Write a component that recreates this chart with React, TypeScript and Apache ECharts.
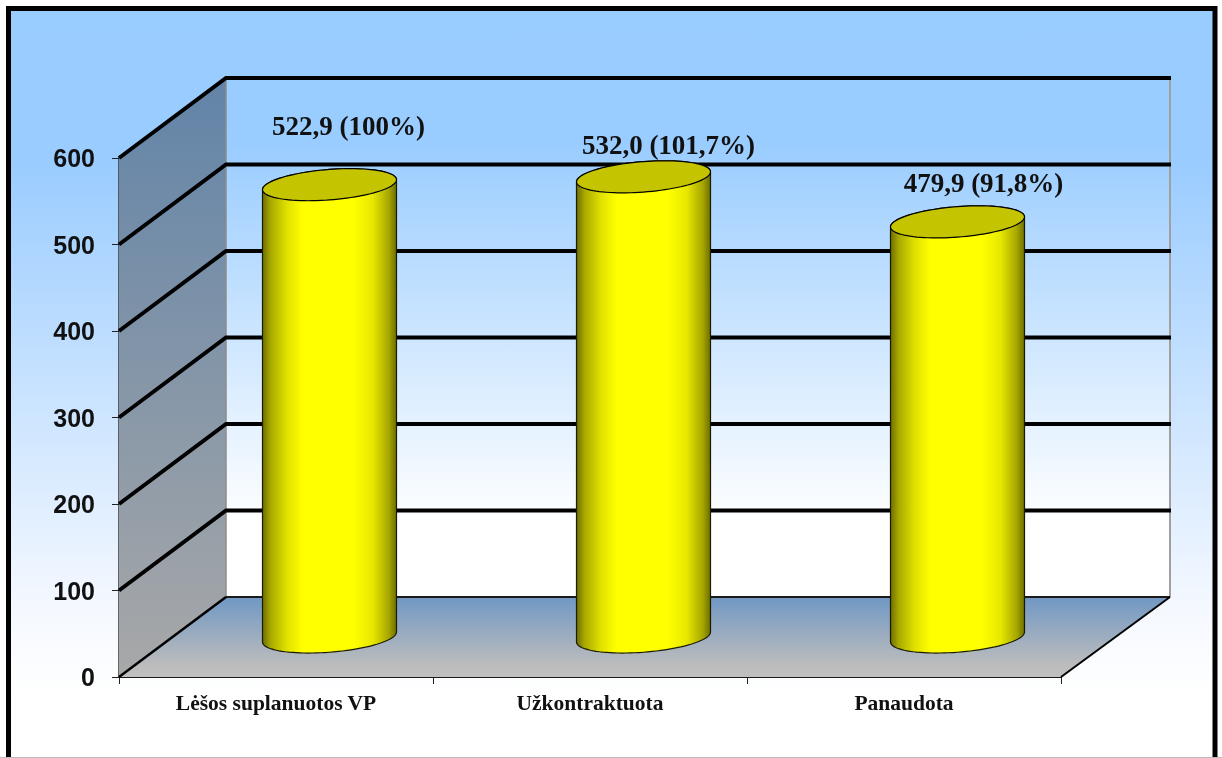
import React, { useEffect, useRef } from "react";
import * as echarts from "echarts";

const categories = ["Lėšos suplanuotos VP", "Užkontraktuota", "Panaudota"];
const values = [522.9, 532.0, 479.9];
const percents = ["100%", "101,7%", "91,8%"];
const yTicks = [100, 200, 300, 400, 500, 600];

const DX = 107;
const DY = -80;
const BACK_EXTRA = 2;
const RX = 67.2;
const RY = 15.2;
const TILT = (4.5 * Math.PI) / 180;
const labelShift = [[19, -59], [25, -32], [26, -39]];

const T0 = Math.atan2(RY * Math.sin(TILT), RX * Math.cos(TILT));
const ARC_STEPS = 48;

function ellipseArc(cx: number, cy: number, from: number, to: number): string[] {
  const out: string[] = [];
  for (let k = 0; k <= ARC_STEPS; k++) {
    const t = from + ((to - from) * k) / ARC_STEPS;
    const x = cx + RX * Math.cos(t) * Math.cos(TILT) + RY * Math.sin(t) * Math.sin(TILT);
    const y = cy - RX * Math.cos(t) * Math.sin(TILT) + RY * Math.sin(t) * Math.cos(TILT);
    out.push(`${x.toFixed(2)} ${y.toFixed(2)}`);
  }
  return out;
}

function renderWalls(params: any, api: any) {
  const cs = params.coordSys;
  const x0 = cs.x, x1 = cs.x + cs.width, yT = cs.y, yB = cs.y + cs.height;
  const bx = x1 + DX + BACK_EXTRA;
  return {
    type: "group",
    children: [
      {
        type: "rect",
        shape: { x: x0 + DX, y: yT + DY, width: bx - x0 - DX, height: yB - yT },
        style: {
          fill: new echarts.graphic.LinearGradient(0, 0, 0, 1, [
            { offset: 0, color: "#99ccff" },
            { offset: 0.12, color: "#99ccff" },
            { offset: 0.86, color: "#ffffff" },
            { offset: 1, color: "#ffffff" },
          ]),
        },
      },
      {
        type: "polygon",
        shape: { points: [[x0, yT], [x0 + DX, yT + DY], [x0 + DX, yB + DY], [x0, yB]] },
        style: {
          fill: new echarts.graphic.LinearGradient(0, 0, 0, 1, [
            { offset: 0, color: "#6284a8" },
            { offset: 1, color: "#a8a8a8" },
          ]),
        },
      },
      {
        type: "polygon",
        shape: { points: [[x0 + DX, yB + DY], [bx, yB + DY], [x1, yB], [x0, yB]] },
        style: {
          fill: new echarts.graphic.LinearGradient(0, 0, 0, 1, [
            { offset: 0, color: "#7098c4" },
            { offset: 0.85, color: "#bcbcbc" },
            { offset: 1, color: "#c0c0c0" },
          ]),
        },
      },
      { type: "line", shape: { x1: x0 + DX, y1: yT + DY, x2: x0 + DX, y2: yB + DY }, style: { stroke: "#8c8c8c", lineWidth: 1.5 } },
      { type: "line", shape: { x1: bx, y1: yT + DY, x2: bx, y2: yB + DY }, style: { stroke: "#a0a0a0", lineWidth: 2 } },
      { type: "line", shape: { x1: x0 + DX, y1: yB + DY, x2: bx, y2: yB + DY }, style: { stroke: "#1a1a1a", lineWidth: 2 } },
      { type: "line", shape: { x1: x0, y1: yB, x2: x0 + DX, y2: yB + DY }, style: { stroke: "#000", lineWidth: 2.5 } },
      { type: "line", shape: { x1: x1, y1: yB, x2: bx, y2: yB + DY }, style: { stroke: "#000", lineWidth: 2 } },
    ],
  };
}

function renderGridLine(params: any, api: any) {
  const cs = params.coordSys;
  const y = api.coord([0, api.value(0)])[1];
  const x0 = cs.x, x1 = cs.x + cs.width;
  return {
    type: "polyline",
    shape: { points: [[x0, y], [x0 + DX, y + DY], [x1 + DX + BACK_EXTRA + 1, y + DY]] },
    style: { stroke: "#000", lineWidth: 4, fill: "none" },
  };
}

function renderCylinder(params: any, api: any) {
  const i = params.dataIndex;
  const v = api.value(1);
  const top = api.coord([i, v]);
  const base = api.coord([i, 0]);
  const cx = top[0] + DX / 2;
  const tcy = top[1] + DY / 2;
  const bcy = base[1] + DY / 2;
  const lower = ellipseArc(cx, bcy, Math.PI + T0, T0);
  const upperBack = ellipseArc(cx, tcy, T0, T0 - Math.PI);
  const upperFront = ellipseArc(cx, tcy, T0 - Math.PI, -Math.PI - Math.PI + T0 + 0);
  const body = `M ${lower.join(" L ")} L ${upperBack.join(" L ")} Z`;
  const cap = `M ${upperBack.join(" L ")} L ${upperFront.join(" L ")} Z`;
  return {
    type: "group",
    children: [
      {
        type: "path",
        shape: { pathData: body },
        style: {
          fill: new echarts.graphic.LinearGradient(0, 0, 1, 0, [
            { offset: 0, color: "#6e6e00" },
            { offset: 0.06, color: "#a8a800" },
            { offset: 0.18, color: "#e0e000" },
            { offset: 0.3, color: "#ffff00" },
            { offset: 0.68, color: "#ffff00" },
            { offset: 0.82, color: "#e8e800" },
            { offset: 0.94, color: "#a8a800" },
            { offset: 1, color: "#6e6e00" },
          ]),
          stroke: "#1a1a00",
          lineWidth: 1.2,
        },
      },
      {
        type: "path",
        shape: { pathData: cap },
        style: { fill: "#c4c400", stroke: "#000", lineWidth: 1.2 },
      },
      {
        type: "text",
        style: {
          x: cx + labelShift[i][0],
          y: tcy + labelShift[i][1],
          text: `${v.toFixed(1).replace(".", ",")} (${percents[i]})`,
          fill: "#111",
          font: "bold 27px 'Liberation Serif'",
          align: "center",
          verticalAlign: "middle",
        },
      },
    ],
  };
}

export default function App() {
  const ref = useRef<HTMLDivElement>(null);
  useEffect(() => {
    document.body.style.margin = "0";
    const chart = echarts.init(ref.current!, null, { renderer: "svg" });
    chart.setOption({
      animation: false,
      graphic: [
        {
          type: "rect",
          z: -10,
          silent: true,
          shape: { x: 8.5, y: 8.5, width: 1206.5, height: 765 },
          style: {
            fill: new echarts.graphic.LinearGradient(0, 0, 0, 1, [
              { offset: 0, color: "#99ccff" },
              { offset: 0.2, color: "#9accff" },
              { offset: 0.78, color: "#f4f8ff" },
              { offset: 0.9, color: "#ffffff" },
              { offset: 1, color: "#ffffff" },
            ]),
            stroke: "#000",
            lineWidth: 5,
          },
        },
        {
          type: "line",
          z: -5,
          silent: true,
          shape: { x1: 0, y1: 757.5, x2: 1222, y2: 757.5 },
          style: { stroke: "#bbbbbb", lineWidth: 1 },
        },
      ],
      grid: { left: 119, right: 161, top: 158, height: 519 },
      xAxis: {
        type: "category",
        data: categories,
        axisLine: { lineStyle: { color: "#1a1a1a", width: 2 } },
        axisTick: { show: true, length: 7, lineStyle: { color: "#222" } },
        axisLabel: { color: "#111", fontFamily: "Liberation Serif", fontWeight: "bold", fontSize: 21.5, margin: 15 },
        splitLine: { show: false },
      },
      yAxis: {
        type: "value",
        min: 0,
        max: 600,
        interval: 100,
        axisLine: { show: true, lineStyle: { color: "#333", width: 1.5 } },
        axisTick: { show: true, length: 7, lineStyle: { color: "#222" } },
        axisLabel: { color: "#111", fontFamily: "Liberation Sans", fontWeight: "bold", fontSize: 25, margin: 24 },
        splitLine: { show: false },
      },
      series: [
        { type: "custom", coordinateSystem: "cartesian2d", z: 1, data: [[0]], encode: { x: -1, y: -1 }, renderItem: renderWalls, silent: true },
        { type: "custom", coordinateSystem: "cartesian2d", z: 2, data: yTicks.map((t) => [t]), encode: { x: -1, y: 0 }, renderItem: renderGridLine, silent: true },
        { type: "custom", coordinateSystem: "cartesian2d", z: 3, data: values.map((v, i) => [i, v]), encode: { x: 0, y: 1 }, renderItem: renderCylinder, silent: true },
      ],
    });
    return () => chart.dispose();
  }, []);
  return <div ref={ref} style={{ position: "fixed", left: 0, top: 0, width: 1222, height: 758 }} />;
}
